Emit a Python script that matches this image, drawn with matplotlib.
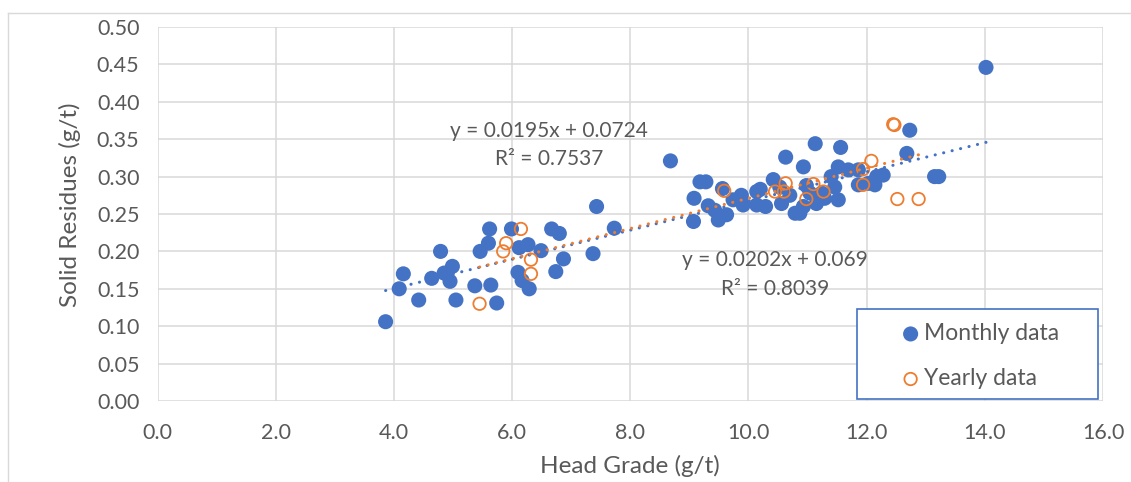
import numpy as np
import matplotlib
matplotlib.use("Agg")
import matplotlib.pyplot as plt
from matplotlib.lines import Line2D
from matplotlib.patches import Rectangle
from matplotlib.ticker import FormatStrFormatter

# ---------------- data ----------------
monthly_x = [3.86, 4.09, 4.16, 4.42, 4.64, 4.79, 4.85, 4.99, 4.95, 5.05,
             5.37, 5.46, 5.60, 5.62, 5.64, 5.74, 5.99, 6.12, 6.27, 6.49,
             6.10, 6.17, 6.29, 6.67, 6.80, 6.87, 6.74, 7.37, 7.43, 7.73,
             8.68, 9.08, 9.18, 9.28, 9.07, 9.32, 9.49, 9.63, 9.56, 9.74,
             9.88, 9.91, 10.14, 10.20, 10.14, 10.29, 10.42, 10.53, 10.56, 10.63,
             10.70, 10.79, 10.98, 10.93, 11.13, 11.56, 12.73, 12.68, 11.52, 11.69,
             11.86, 11.40, 11.04, 11.29, 11.52, 12.17, 12.28, 12.03, 12.14, 11.86,
             10.93, 11.15, 10.87, 11.24, 11.46, 9.43, 13.15, 13.22, 14.02]
monthly_y = [0.106, 0.150, 0.170, 0.135, 0.164, 0.200, 0.171, 0.180, 0.160, 0.135,
             0.154, 0.200, 0.211, 0.230, 0.155, 0.131, 0.230, 0.205, 0.209, 0.201,
             0.172, 0.161, 0.150, 0.230, 0.224, 0.190, 0.173, 0.197, 0.260, 0.231,
             0.321, 0.271, 0.293, 0.293, 0.240, 0.261, 0.242, 0.249, 0.284, 0.269,
             0.275, 0.262, 0.280, 0.283, 0.262, 0.260, 0.296, 0.286, 0.264, 0.326,
             0.275, 0.251, 0.288, 0.313, 0.344, 0.339, 0.362, 0.331, 0.313, 0.309,
             0.309, 0.300, 0.278, 0.271, 0.269, 0.300, 0.302, 0.291, 0.289, 0.289,
             0.260, 0.264, 0.251, 0.278, 0.286, 0.255, 0.300, 0.300, 0.446]

yearly_x = [5.45, 5.90, 5.85, 6.15, 6.32, 6.32, 9.59, 10.45, 10.63, 10.60,
            10.98, 11.10, 11.27, 11.94, 12.08, 11.94, 12.45, 12.47, 12.52, 12.88]
yearly_y = [0.130, 0.211, 0.200, 0.230, 0.189, 0.170, 0.281, 0.280, 0.291, 0.280,
            0.270, 0.290, 0.280, 0.310, 0.321, 0.289, 0.370, 0.369, 0.270, 0.270]

monthly_fit = (0.0195, 0.0724)
yearly_fit = (0.0202, 0.069)
monthly_eq = ["y = 0.0195x + 0.0724", "R\u00b2 = 0.7537"]
yearly_eq = ["y = 0.0202x + 0.069", "R\u00b2 = 0.8039"]
series_labels = ["Monthly data", "Yearly data"]
x_ticks = [0, 2, 4, 6, 8, 10, 12, 14, 16]
y_ticks = [0.00, 0.05, 0.10, 0.15, 0.20, 0.25, 0.30, 0.35, 0.40, 0.45, 0.50]
x_title = "Head Grade (g/t)"
y_title = "Solid Residues (g/t)"

# ---------------- style ----------------
BLUE = "#4472C4"
ORANGE = "#ED7D31"
TXT = "#595959"
GRID = "#D9D9D9"
plt.rcParams["font.family"] = ["Lato", "DejaVu Sans"]

W, H = 1131, 482
fig = plt.figure(figsize=(W / 100, H / 100), dpi=100)
L, R, T, B = 157.5, 1103, 27, 401
ax = fig.add_axes([L / W, 1 - B / H, (R - L) / W, (B - T) / H])

# outer chart border (left & top visible)
fig.add_artist(Line2D([8 / W, 8 / W], [0, 1 - 13 / H], color=GRID, lw=1.0,
                      transform=fig.transFigure))
fig.add_artist(Line2D([8 / W, 1], [1 - 13 / H, 1 - 13 / H], color=GRID, lw=1.0,
                      transform=fig.transFigure))

ax.set_xlim(0, 16)
ax.set_ylim(0, 0.5)
ax.set_xticks(x_ticks)
ax.set_yticks(y_ticks)
ax.xaxis.set_major_formatter(FormatStrFormatter("%.1f"))
ax.yaxis.set_major_formatter(FormatStrFormatter("%.2f"))
ax.grid(True, color=GRID, lw=1.1, zorder=0)
ax.set_axisbelow(True)
for s in ax.spines.values():
    s.set_visible(False)
ax.tick_params(axis="both", length=0, colors=TXT, labelsize=15.5)
ax.tick_params(axis="x", pad=15.5)
ax.tick_params(axis="y", pad=13)

# points
sc_m = ax.scatter(monthly_x, monthly_y, s=118, color=BLUE, edgecolors="none",
                  zorder=3, label=series_labels[0])
sc_y = ax.scatter(yearly_x, yearly_y, s=80, facecolors="none", edgecolors=ORANGE,
                  linewidths=1.3, zorder=4, label=series_labels[1])

# trend lines
dot = (0, (0.05, 2.8))
xm = np.array([min(monthly_x), max(monthly_x)])
ax.plot(xm, monthly_fit[0] * xm + monthly_fit[1], color=BLUE, lw=2.2,
        linestyle=dot, dash_capstyle="round", zorder=5)
xy = np.array([min(yearly_x), max(yearly_x)])
ax.plot(xy, yearly_fit[0] * xy + yearly_fit[1], color=ORANGE, lw=2.2,
        linestyle=dot, dash_capstyle="round", zorder=6)

# equations
ax.text(6.63, 0.361, monthly_eq[0], color=TXT, fontsize=15, ha="center", va="center", zorder=7)
ax.text(6.63, 0.3235, monthly_eq[1], color=TXT, fontsize=15, ha="center", va="center", zorder=7)
ax.text(10.45, 0.1885, yearly_eq[0], color=TXT, fontsize=15, ha="center", va="center", zorder=7)
ax.text(10.45, 0.150, yearly_eq[1], color=TXT, fontsize=15, ha="center", va="center", zorder=7)

# legend box + legend
x0 = (857 - L) / (R - L)
x1 = (1098 - L) / (R - L)
y0 = (B - 399) / (B - T)
y1 = (B - 309) / (B - T)
ax.add_patch(Rectangle((x0, y0), x1 - x0, y1 - y0, transform=ax.transAxes,
                       facecolor="white", edgecolor=BLUE, lw=1.2, zorder=8))
leg = ax.legend(handles=[sc_m, sc_y], loc="center left",
                bbox_to_anchor=((890 - L) / (R - L), (B - 356) / (B - T)),
                frameon=False, fontsize=16.5, borderpad=0, handlelength=0.8,
                handletextpad=0.2, labelspacing=1.05, scatterpoints=1)
leg.set_zorder(9)
for t in leg.get_texts():
    t.set_color(TXT)

# axis titles
fig.text(70 / W, 1 - 205 / H, y_title, rotation=90, ha="center", va="center",
         fontsize=17.5, color=TXT)
fig.text(630 / W, 1 - 466 / H, x_title, ha="center", va="center",
         fontsize=17.5, color=TXT)

fig.savefig("out.png", dpi=100)
